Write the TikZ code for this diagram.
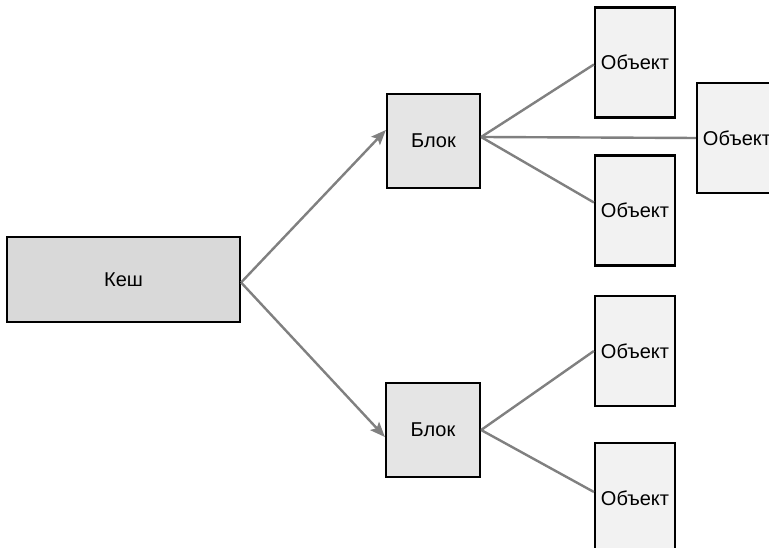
\documentclass[tikz,border=0pt]{standalone}
\usepackage{fontspec}
\setmainfont{Liberation Sans}
\usetikzlibrary{arrows.meta}
\begin{document}
\begin{tikzpicture}[x=1pt,y=1pt,
  box/.style={draw=black,line width=2.2pt,inner sep=0pt,font=\fontsize{20}{24}\selectfont},
  kesh/.style={box,fill=black!15},
  blok/.style={box,fill=black!10},
  obj/.style={box,fill=black!5,minimum width=80pt,minimum height=110pt},
  link/.style={draw=black!50,line width=2.4pt},
  arr/.style={link,-{Stealth[length=15pt,width=12pt,inset=3pt]}}]
\useasboundingbox (0,0) rectangle (769,548);
\clip (0,0) rectangle (769,548);
\fill[white] (0,0) rectangle (769,548);
\node[kesh,minimum width=233pt,minimum height=85pt] (kesh) at (123.5,268.5) {Кеш};
\node[blok,minimum width=93pt,minimum height=94pt] (b1) at (433.5,407) {Блок};
\node[blok,minimum width=94pt,minimum height=94pt] (b2) at (433,118) {Блок};
\node[obj] (o1) at (635,485.5) {Объект};
\node[obj] (o2) at (737,410) {Объект};
\node[obj] (o3) at (635,337.5) {Объект};
\node[obj] (o4) at (635,197) {Объект};
\node[obj] (o5) at (635,50) {Объект};
\draw[arr] ([yshift=-3pt]kesh.east) -- ([yshift=11pt]b1.west);
\draw[arr] ([yshift=-3pt]kesh.east) -- ([yshift=-7pt]b2.west);
\draw[link] ([yshift=4pt]b1.east) -- ([yshift=-2pt]o1.west);
\draw[link] ([yshift=4pt]b1.east) -- (o2.west);
\draw[link] ([yshift=4pt]b1.east) -- ([yshift=8pt]o3.west);
\draw[link] (b2.east) -- (o4.west);
\draw[link] (b2.east) -- ([yshift=6pt]o5.west);
\end{tikzpicture}
\end{document}
